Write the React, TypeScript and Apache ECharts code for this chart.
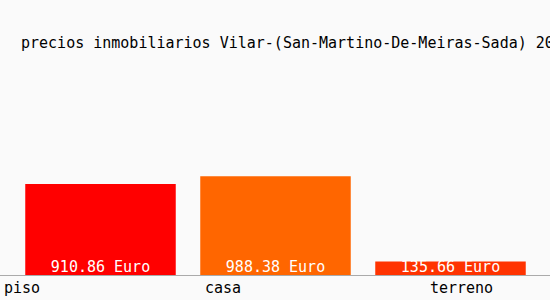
import React, { useEffect, useRef } from "react";
import * as echarts from "echarts";

const title = "precios inmobiliarios Vilar-(San-Martino-De-Meiras-Sada) 20";
const categories = ["piso", "casa", "terreno"];
const values = [910.86, 988.38, 135.66];
const colors = ["#ff0000", "#ff6600", "#ff3300"];
const yMax = 2000;

const FONT = "DejaVu Sans Mono";

export default function App() {
  const ref = useRef<HTMLDivElement>(null);
  useEffect(() => {
    if (!ref.current) return;
    const chart = echarts.init(ref.current, null, { renderer: "svg" });
    const pads = [
      [0, 157, 0, 0],
      [0, 105, 0, 0],
      [0, 0, 0, 22],
    ];
    const rich: Record<string, any> = {};
    pads.forEach((p, i) => {
      rich["l" + i] = { padding: p, fontFamily: FONT, fontSize: 15, color: "#000" };
    });
    chart.setOption({
      animation: false,
      backgroundColor: "#fafafa",
      title: {
        text: title,
        left: 16,
        top: 30,
        textStyle: { fontFamily: FONT, fontSize: 15, fontWeight: "normal", color: "#000" },
      },
      grid: { left: 13, right: 12, top: 75, bottom: 25, containLabel: false },
      xAxis: {
        type: "category",
        data: categories,
        axisLine: { show: false },
        axisTick: { show: false },
        axisLabel: {
          margin: 5,
          formatter: (v: string, i: number) => `{l${i}|${v}}`,
          rich,
        },
      },
      yAxis: {
        type: "value",
        min: 0,
        max: yMax,
        show: false,
        splitLine: { show: false },
      },
      graphic: [
        {
          type: "line",
          shape: { x1: 0, y1: 275.5, x2: 550, y2: 275.5 },
          style: { stroke: "#aaaaaa", lineWidth: 1 },
          z: 10,
        },
      ],
      series: [
        {
          type: "bar",
          barCategoryGap: "14%",
          data: values.map((v, i) => ({ value: v, itemStyle: { color: colors[i] } })),
          label: {
            show: true,
            position: "insideBottom",
            distance: 1,
            formatter: (p: any) => `${p.value.toFixed(2)} Euro`,
            fontFamily: FONT,
            fontSize: 15,
            color: "#ffffff",
          },
        },
      ],
    });
    return () => chart.dispose();
  }, []);
  return (
    <div
      style={{
        position: "fixed",
        left: 0,
        top: 0,
        width: 550,
        height: 300,
        boxSizing: "border-box",
        border: "1px solid #dddddd",
        background: "#fafafa",
      }}
    >
      <div ref={ref} style={{ position: "absolute", left: -1, top: -1, width: 550, height: 300 }} />
    </div>
  );
}
